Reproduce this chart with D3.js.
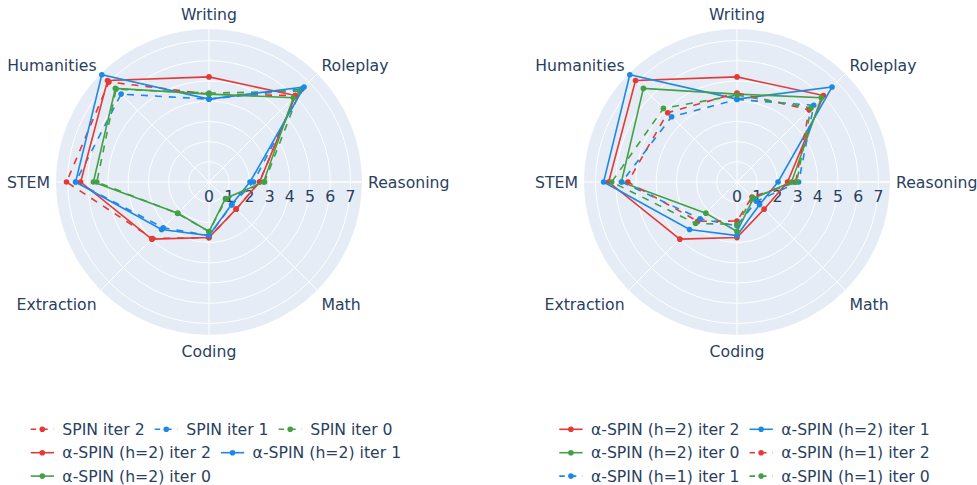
<!DOCTYPE html>
<html>
<head>
<meta charset="utf-8">
<script src="https://cdn.jsdelivr.net/npm/d3@7"></script>
<style>
  body { margin: 0; background: #fff; }
  svg text { font-family: "DejaVu Sans", Verdana, sans-serif; fill: #2a3f5f; }
</style>
</head>
<body>
<svg id="chart" width="977" height="485"></svg>
<script>
// categories clockwise from the top
var categories = ["Writing", "Roleplay", "Reasoning", "Math", "Coding", "Extraction", "STEM", "Humanities"];
var radialTicks = [0, 1, 2, 3, 4, 5, 6, 7];

// left panel
var spinIter2 = [4.35, 6.05, 2.5, 1.9, 2.75, 3.95, 7.05, 7.0];
var spinIter1 = [4.1, 6.5, 2.2, 1.6, 2.65, 3.2, 6.6, 6.15];
var spinIter0 = [4.4, 6.35, 2.75, 1.2, 2.45, 2.2, 5.55, 6.5];
var alphaH2Iter2 = [5.2, 6.05, 2.5, 1.9, 2.75, 4.0, 6.35, 7.1];
var alphaH2Iter1 = [4.1, 6.65, 2.03, 1.58, 2.65, 3.32, 6.6, 7.5];
var alphaH2Iter0 = [4.35, 5.9, 2.7, 1.15, 2.45, 2.18, 5.72, 6.55];
// right panel extra
var alphaH1Iter2 = [4.4, 5.05, 2.9, 1.05, 1.93, 2.75, 5.4, 4.85];
var alphaH1Iter1 = [4.08, 5.37, 3.05, 1.35, 2.17, 2.58, 5.7, 4.57];
var alphaH1Iter0 = [4.3, 5.18, 2.95, 1.1, 2.1, 2.9, 6.2, 5.15];

var red = "#e53935", blue = "#1e88e5", green = "#43a047";

var leftSeries = [
  {name: "SPIN iter 2", values: spinIter2, color: red, dash: true},
  {name: "SPIN iter 1", values: spinIter1, color: blue, dash: true},
  {name: "SPIN iter 0", values: spinIter0, color: green, dash: true},
  {name: "α-SPIN (h=2) iter 2", values: alphaH2Iter2, color: red, dash: false},
  {name: "α-SPIN (h=2) iter 1", values: alphaH2Iter1, color: blue, dash: false},
  {name: "α-SPIN (h=2) iter 0", values: alphaH2Iter0, color: green, dash: false}
];
var rightSeries = [
  {name: "α-SPIN (h=2) iter 2", values: alphaH2Iter2, color: red, dash: false},
  {name: "α-SPIN (h=2) iter 1", values: alphaH2Iter1, color: blue, dash: false},
  {name: "α-SPIN (h=2) iter 0", values: alphaH2Iter0, color: green, dash: false},
  {name: "α-SPIN (h=1) iter 2", values: alphaH1Iter2, color: red, dash: true},
  {name: "α-SPIN (h=1) iter 1", values: alphaH1Iter1, color: blue, dash: true},
  {name: "α-SPIN (h=1) iter 0", values: alphaH1Iter0, color: green, dash: true}
];

var svg = d3.select("svg#chart");
var fontSize = 15.7;
var outerR = 153;
var rMax = 7.57;
var lineW = 1.6;
var dashArr = "7,7";

var rScale = d3.scaleLinear().domain([0, rMax]).range([0, outerR]);
var aScale = d3.scalePoint().domain(categories).range([0, 2 * Math.PI * 7 / 8]);

function drawRadar(cx, cy, series, legendX) {
  var g = svg.append("g").attr("transform", "translate(" + cx + "," + cy + ")");

  // background disc
  g.append("circle").attr("r", outerR).attr("fill", "#e5ecf6");

  // grid circles
  g.selectAll("circle.grid")
    .data(radialTicks.filter(function(t) { return t > 0; }))
    .enter().append("circle")
    .attr("class", "grid")
    .attr("r", function(d) { return rScale(d); })
    .attr("fill", "none")
    .attr("stroke", "#fff")
    .attr("stroke-width", 1);

  // spokes
  g.selectAll("line.spoke")
    .data(categories)
    .enter().append("line")
    .attr("class", "spoke")
    .attr("x1", 0).attr("y1", 0)
    .attr("x2", function(d) { return outerR * Math.sin(aScale(d)); })
    .attr("y2", function(d) { return -outerR * Math.cos(aScale(d)); })
    .attr("stroke", "#fff")
    .attr("stroke-width", function(d) { return d === "Reasoning" ? 1.6 : 1; });

  // radial tick labels
  g.selectAll("text.rtick")
    .data(radialTicks)
    .enter().append("text")
    .attr("class", "rtick")
    .attr("x", function(d) { return rScale(d); })
    .attr("y", 14)
    .attr("text-anchor", "middle")
    .attr("dominant-baseline", "central")
    .style("font-size", fontSize + "px")
    .text(function(d) { return d; });

  // angular labels
  var pad = outerR + 6;
  g.selectAll("text.alabel")
    .data(categories)
    .enter().append("text")
    .attr("class", "alabel")
    .attr("x", function(d) { return pad * Math.sin(aScale(d)); })
    .attr("y", function(d) {
      var c = Math.cos(aScale(d));
      var off = c < -0.1 ? 10.5 : (c > 0.1 ? -9 * c * c : 0);
      return -pad * c + off;
    })
    .attr("text-anchor", function(d) {
      var s = Math.sin(aScale(d));
      return s > 0.1 ? "start" : (s < -0.1 ? "end" : "middle");
    })
    .attr("dominant-baseline", "central")
    .style("font-size", fontSize + "px")
    .text(function(d) { return d; });

  var line = d3.lineRadial()
    .angle(function(d, i) { return aScale(categories[i]); })
    .radius(function(d) { return rScale(d); })
    .curve(d3.curveLinearClosed);

  series.forEach(function(s) {
    var tg = g.append("g");
    tg.append("path")
      .attr("d", line(s.values))
      .attr("fill", "none")
      .attr("stroke", s.color)
      .attr("stroke-width", lineW)
      .attr("stroke-dasharray", s.dash ? dashArr : null);
    tg.selectAll("circle")
      .data(s.values)
      .enter().append("circle")
      .attr("cx", function(d, i) { return rScale(d) * Math.sin(aScale(categories[i])); })
      .attr("cy", function(d, i) { return -rScale(d) * Math.cos(aScale(categories[i])); })
      .attr("r", 2.8)
      .attr("fill", s.color);
  });

  // legend, flowing left to right and wrapping
  var lg = svg.append("g");
  var x = legendX, y = 429.3, maxW = 440, rowH = 23.4;
  series.forEach(function(s) {
    var item = lg.append("g");
    item.append("line")
      .attr("x1", 0).attr("x2", 23.3).attr("y1", 0).attr("y2", 0)
      .attr("stroke", s.color)
      .attr("stroke-width", lineW)
      .attr("stroke-dasharray", s.dash ? "5.5,6" : null);
    item.append("circle").attr("cx", 11.6).attr("cy", 0).attr("r", 2.8).attr("fill", s.color);
    var t = item.append("text")
      .attr("x", 31.6).attr("y", 0)
      .attr("dominant-baseline", "central")
      .style("font-size", fontSize + "px")
      .text(s.name);
    var w = 31.6 + t.node().getComputedTextLength() + 10;
    if (x + w - legendX > maxW && x > legendX) {
      x = legendX;
      y += rowH;
    }
    item.attr("transform", "translate(" + x + "," + y + ")");
    x += w;
  });
}

drawRadar(209, 182, leftSeries, 30.7);
drawRadar(737, 182, rightSeries, 559.3);
</script>
</body>
</html>
